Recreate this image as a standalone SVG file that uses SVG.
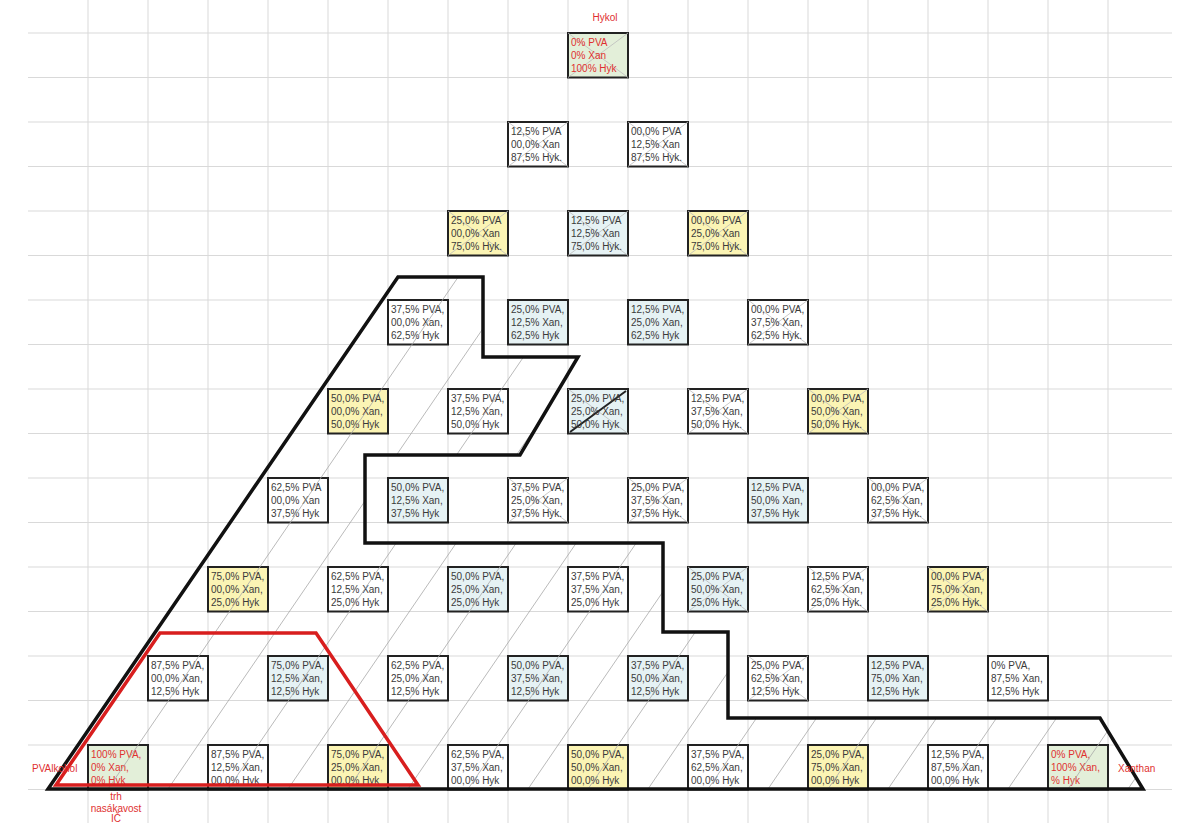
<svg xmlns="http://www.w3.org/2000/svg" width="1180" height="823" viewBox="0 0 1180 823">
<style>
.grid{stroke:#d9d9d9;stroke-width:1;fill:none}
.box{stroke:#222;stroke-width:2}
.w{fill:#ffffff}.y{fill:#fbf4b4}.b{fill:#e6f2f4}.g{fill:#e3efd9}
.x{stroke:#bdbdbd;stroke-width:0.8;fill:none}
.t{font-family:"Liberation Sans",Arial,sans-serif;font-size:10px;fill:#3a3a3a}
.r{fill:#e03030}
.lbl{font-family:"Liberation Sans",Arial,sans-serif;font-size:10px;fill:#e03030}
.hatch{stroke:#a8a8a8;stroke-width:0.8;fill:none}
.outline{stroke:#111;stroke-width:3.5;fill:none;stroke-linejoin:miter}
.red{stroke:#d81e1e;stroke-width:3.5;fill:none}
</style>
<defs>
<clipPath id="polyclip"><polygon points="48,789 398,277 483,277 483,357 578,357 520,455 365,455 365,543 663,543 663,632 728,632 728,718 1100,718 1143,789"/></clipPath>
</defs>
<rect width="1180" height="823" fill="#ffffff"/>
<g id="grid" class="grid">
<path d="M28 33H1172M28 77.5H1172M28 122H1172M28 166.5H1172M28 211H1172M28 255.5H1172M28 300H1172M28 344.5H1172M28 389H1172M28 433.5H1172M28 478H1172M28 522.5H1172M28 567H1172M28 611.5H1172M28 656H1172M28 700.5H1172M28 745H1172M28 789.5H1172"/>
<path d="M88 0V823M148 0V823M208 0V823M268 0V823M328 0V823M388 0V823M448 0V823M508 0V823M568 0V823M628 0V823M688 0V823M748 0V823M808 0V823M868 0V823M928 0V823M988 0V823M1048 0V823M1108 0V823"/>
</g>

<g id="n-hykol"><rect class="box g" x="568" y="33" width="60" height="44.5"/><path class="x" d="M568 33L628 77.5M628 33L568 77.5"/><text class="t r" x="571"><tspan x="571" y="46">0% PVA</tspan><tspan x="571" y="59">0% Xan</tspan><tspan x="571" y="72">100% Hyk</tspan></text></g>

<g id="n-2-1"><rect class="box w" x="508" y="122" width="60" height="44.5"/><path class="x" d="M508 122L568 166.5M568 122L508 166.5"/><text class="t"><tspan x="511" y="135">12,5% PVA</tspan><tspan x="511" y="148">00,0% Xan</tspan><tspan x="511" y="161">87,5% Hyk.</tspan></text></g>
<g id="n-2-2"><rect class="box w" x="628" y="122" width="60" height="44.5"/><path class="x" d="M628 122L688 166.5M688 122L628 166.5"/><text class="t"><tspan x="631" y="135">00,0% PVA</tspan><tspan x="631" y="148">12,5% Xan</tspan><tspan x="631" y="161">87,5% Hyk.</tspan></text></g>

<g id="n-3-1"><rect class="box y" x="448" y="211" width="60" height="44.5"/><path class="x" d="M448 211L508 255.5M508 211L448 255.5"/><text class="t"><tspan x="451" y="224">25,0% PVA</tspan><tspan x="451" y="237">00,0% Xan</tspan><tspan x="451" y="250">75,0% Hyk.</tspan></text></g>
<g id="n-3-2"><rect class="box b" x="568" y="211" width="60" height="44.5"/><path class="x" d="M568 211L628 255.5M628 211L568 255.5"/><text class="t"><tspan x="571" y="224">12,5% PVA</tspan><tspan x="571" y="237">12,5% Xan</tspan><tspan x="571" y="250">75,0% Hyk.</tspan></text></g>
<g id="n-3-3"><rect class="box y" x="688" y="211" width="60" height="44.5"/><path class="x" d="M688 211L748 255.5M748 211L688 255.5"/><text class="t"><tspan x="691" y="224">00,0% PVA</tspan><tspan x="691" y="237">25,0% Xan</tspan><tspan x="691" y="250">75,0% Hyk.</tspan></text></g>

<g id="n-4-1"><rect class="box w" x="388" y="300" width="60" height="44.5"/><text class="t"><tspan x="391" y="313">37,5% PVA,</tspan><tspan x="391" y="326">00,0% Xan,</tspan><tspan x="391" y="339">62,5% Hyk</tspan></text></g>
<g id="n-4-2"><rect class="box b" x="508" y="300" width="60" height="44.5"/><text class="t"><tspan x="511" y="313">25,0% PVA,</tspan><tspan x="511" y="326">12,5% Xan,</tspan><tspan x="511" y="339">62,5% Hyk</tspan></text></g>
<g id="n-4-3"><rect class="box b" x="628" y="300" width="60" height="44.5"/><text class="t"><tspan x="631" y="313">12,5% PVA,</tspan><tspan x="631" y="326">25,0% Xan,</tspan><tspan x="631" y="339">62,5% Hyk</tspan></text></g>
<g id="n-4-4"><rect class="box w" x="748" y="300" width="60" height="44.5"/><path class="x" d="M748 300L808 344.5M808 300L748 344.5"/><text class="t"><tspan x="751" y="313">00,0% PVA,</tspan><tspan x="751" y="326">37,5% Xan,</tspan><tspan x="751" y="339">62,5% Hyk.</tspan></text></g>

<g id="n-5-1"><rect class="box y" x="328" y="389" width="60" height="44.5"/><text class="t"><tspan x="331" y="402">50,0% PVA,</tspan><tspan x="331" y="415">00,0% Xan,</tspan><tspan x="331" y="428">50,0% Hyk</tspan></text></g>
<g id="n-5-2"><rect class="box w" x="448" y="389" width="60" height="44.5"/><text class="t"><tspan x="451" y="402">37,5% PVA,</tspan><tspan x="451" y="415">12,5% Xan,</tspan><tspan x="451" y="428">50,0% Hyk</tspan></text></g>
<g id="n-5-3"><rect class="box b" x="568" y="389" width="60" height="44.5"/><path class="x" d="M568 389L628 433.5"/><path d="M626 391L570 432" stroke="#222" stroke-width="2" fill="none"/><text class="t"><tspan x="571" y="402">25,0% PVA,</tspan><tspan x="571" y="415">25,0% Xan,</tspan><tspan x="571" y="428">50,0% Hyk</tspan></text></g>
<g id="n-5-4"><rect class="box w" x="688" y="389" width="60" height="44.5"/><path class="x" d="M688 389L748 433.5M748 389L688 433.5"/><text class="t"><tspan x="691" y="402">12,5% PVA,</tspan><tspan x="691" y="415">37,5% Xan,</tspan><tspan x="691" y="428">50,0% Hyk.</tspan></text></g>
<g id="n-5-5"><rect class="box y" x="808" y="389" width="60" height="44.5"/><path class="x" d="M808 389L868 433.5M868 389L808 433.5"/><text class="t"><tspan x="811" y="402">00,0% PVA,</tspan><tspan x="811" y="415">50,0% Xan,</tspan><tspan x="811" y="428">50,0% Hyk.</tspan></text></g>

<g id="n-6-1"><rect class="box w" x="268" y="478" width="60" height="44.5"/><text class="t"><tspan x="271" y="491">62,5% PVA</tspan><tspan x="271" y="504">00,0% Xan</tspan><tspan x="271" y="517">37,5% Hyk</tspan></text></g>
<g id="n-6-2"><rect class="box b" x="388" y="478" width="60" height="44.5"/><text class="t"><tspan x="391" y="491">50,0% PVA,</tspan><tspan x="391" y="504">12,5% Xan,</tspan><tspan x="391" y="517">37,5% Hyk</tspan></text></g>
<g id="n-6-3"><rect class="box w" x="508" y="478" width="60" height="44.5"/><path class="x" d="M508 478L568 522.5M568 478L508 522.5"/><text class="t"><tspan x="511" y="491">37,5% PVA,</tspan><tspan x="511" y="504">25,0% Xan,</tspan><tspan x="511" y="517">37,5% Hyk.</tspan></text></g>
<g id="n-6-4"><rect class="box w" x="628" y="478" width="60" height="44.5"/><path class="x" d="M628 478L688 522.5M688 478L628 522.5"/><text class="t"><tspan x="631" y="491">25,0% PVA,</tspan><tspan x="631" y="504">37,5% Xan,</tspan><tspan x="631" y="517">37,5% Hyk.</tspan></text></g>
<g id="n-6-5"><rect class="box b" x="748" y="478" width="60" height="44.5"/><text class="t"><tspan x="751" y="491">12,5% PVA,</tspan><tspan x="751" y="504">50,0% Xan,</tspan><tspan x="751" y="517">37,5% Hyk</tspan></text></g>
<g id="n-6-6"><rect class="box w" x="868" y="478" width="60" height="44.5"/><path class="x" d="M868 478L928 522.5M928 478L868 522.5"/><text class="t"><tspan x="871" y="491">00,0% PVA,</tspan><tspan x="871" y="504">62,5% Xan,</tspan><tspan x="871" y="517">37,5% Hyk.</tspan></text></g>

<g id="n-7-1"><rect class="box y" x="208" y="567" width="60" height="44.5"/><text class="t"><tspan x="211" y="580">75,0% PVA,</tspan><tspan x="211" y="593">00,0% Xan,</tspan><tspan x="211" y="606">25,0% Hyk</tspan></text></g>
<g id="n-7-2"><rect class="box w" x="328" y="567" width="60" height="44.5"/><text class="t"><tspan x="331" y="580">62,5% PVA,</tspan><tspan x="331" y="593">12,5% Xan,</tspan><tspan x="331" y="606">25,0% Hyk</tspan></text></g>
<g id="n-7-3"><rect class="box b" x="448" y="567" width="60" height="44.5"/><text class="t"><tspan x="451" y="580">50,0% PVA,</tspan><tspan x="451" y="593">25,0% Xan,</tspan><tspan x="451" y="606">25,0% Hyk</tspan></text></g>
<g id="n-7-4"><rect class="box w" x="568" y="567" width="60" height="44.5"/><text class="t"><tspan x="571" y="580">37,5% PVA,</tspan><tspan x="571" y="593">37,5% Xan,</tspan><tspan x="571" y="606">25,0% Hyk</tspan></text></g>
<g id="n-7-5"><rect class="box b" x="688" y="567" width="60" height="44.5"/><path class="x" d="M688 567L748 611.5M748 567L688 611.5"/><text class="t"><tspan x="691" y="580">25,0% PVA,</tspan><tspan x="691" y="593">50,0% Xan,</tspan><tspan x="691" y="606">25,0% Hyk.</tspan></text></g>
<g id="n-7-6"><rect class="box w" x="808" y="567" width="60" height="44.5"/><path class="x" d="M808 567L868 611.5M868 567L808 611.5"/><text class="t"><tspan x="811" y="580">12,5% PVA,</tspan><tspan x="811" y="593">62,5% Xan,</tspan><tspan x="811" y="606">25,0% Hyk.</tspan></text></g>
<g id="n-7-7"><rect class="box y" x="928" y="567" width="60" height="44.5"/><path class="x" d="M928 567L988 611.5M988 567L928 611.5"/><text class="t"><tspan x="931" y="580">00,0% PVA,</tspan><tspan x="931" y="593">75,0% Xan,</tspan><tspan x="931" y="606">25,0% Hyk.</tspan></text></g>

<g id="n-8-1"><rect class="box w" x="148" y="656" width="60" height="44.5"/><text class="t"><tspan x="151" y="669">87,5% PVA,</tspan><tspan x="151" y="682">00,0% Xan,</tspan><tspan x="151" y="695">12,5% Hyk</tspan></text></g>
<g id="n-8-2"><rect class="box b" x="268" y="656" width="60" height="44.5"/><text class="t"><tspan x="271" y="669">75,0% PVA,</tspan><tspan x="271" y="682">12,5% Xan,</tspan><tspan x="271" y="695">12,5% Hyk</tspan></text></g>
<g id="n-8-3"><rect class="box w" x="388" y="656" width="60" height="44.5"/><text class="t"><tspan x="391" y="669">62,5% PVA,</tspan><tspan x="391" y="682">25,0% Xan,</tspan><tspan x="391" y="695">12,5% Hyk</tspan></text></g>
<g id="n-8-4"><rect class="box b" x="508" y="656" width="60" height="44.5"/><text class="t"><tspan x="511" y="669">50,0% PVA,</tspan><tspan x="511" y="682">37,5% Xan,</tspan><tspan x="511" y="695">12,5% Hyk</tspan></text></g>
<g id="n-8-5"><rect class="box b" x="628" y="656" width="60" height="44.5"/><text class="t"><tspan x="631" y="669">37,5% PVA,</tspan><tspan x="631" y="682">50,0% Xan,</tspan><tspan x="631" y="695">12,5% Hyk</tspan></text></g>
<g id="n-8-6"><rect class="box w" x="748" y="656" width="60" height="44.5"/><path class="x" d="M748 656L808 700.5M808 656L748 700.5"/><text class="t"><tspan x="751" y="669">25,0% PVA,</tspan><tspan x="751" y="682">62,5% Xan,</tspan><tspan x="751" y="695">12,5% Hyk</tspan></text></g>
<g id="n-8-7"><rect class="box b" x="868" y="656" width="60" height="44.5"/><text class="t"><tspan x="871" y="669">12,5% PVA,</tspan><tspan x="871" y="682">75,0% Xan,</tspan><tspan x="871" y="695">12,5% Hyk</tspan></text></g>
<g id="n-8-8"><rect class="box w" x="988" y="656" width="60" height="44.5"/><text class="t"><tspan x="991" y="669">0% PVA,</tspan><tspan x="991" y="682">87,5% Xan,</tspan><tspan x="991" y="695">12,5% Hyk</tspan></text></g>

<g id="n-pva"><rect class="box g" x="88" y="745" width="60" height="44.5"/><text class="t r"><tspan x="91" y="758">100% PVA,</tspan><tspan x="91" y="771">0% Xan,</tspan><tspan x="91" y="784">0% Hyk</tspan></text></g>
<g id="n-9-2"><rect class="box w" x="208" y="745" width="60" height="44.5"/><text class="t"><tspan x="211" y="758">87,5% PVA,</tspan><tspan x="211" y="771">12,5% Xan,</tspan><tspan x="211" y="784">00,0% Hyk</tspan></text></g>
<g id="n-9-3"><rect class="box y" x="328" y="745" width="60" height="44.5"/><text class="t"><tspan x="331" y="758">75,0% PVA,</tspan><tspan x="331" y="771">25,0% Xan,</tspan><tspan x="331" y="784">00,0% Hyk</tspan></text></g>
<g id="n-9-4"><rect class="box w" x="448" y="745" width="60" height="44.5"/><text class="t"><tspan x="451" y="758">62,5% PVA,</tspan><tspan x="451" y="771">37,5% Xan,</tspan><tspan x="451" y="784">00,0% Hyk</tspan></text></g>
<g id="n-9-5"><rect class="box y" x="568" y="745" width="60" height="44.5"/><text class="t"><tspan x="571" y="758">50,0% PVA,</tspan><tspan x="571" y="771">50,0% Xan,</tspan><tspan x="571" y="784">00,0% Hyk</tspan></text></g>
<g id="n-9-6"><rect class="box w" x="688" y="745" width="60" height="44.5"/><text class="t"><tspan x="691" y="758">37,5% PVA,</tspan><tspan x="691" y="771">62,5% Xan,</tspan><tspan x="691" y="784">00,0% Hyk</tspan></text></g>
<g id="n-9-7"><rect class="box y" x="808" y="745" width="60" height="44.5"/><text class="t"><tspan x="811" y="758">25,0% PVA,</tspan><tspan x="811" y="771">75,0% Xan,</tspan><tspan x="811" y="784">00,0% Hyk</tspan></text></g>
<g id="n-9-8"><rect class="box w" x="928" y="745" width="60" height="44.5"/><text class="t"><tspan x="931" y="758">12,5% PVA,</tspan><tspan x="931" y="771">87,5% Xan,</tspan><tspan x="931" y="784">00,0% Hyk</tspan></text></g>
<g id="n-xan"><rect class="box g" x="1048" y="745" width="60" height="44.5"/><text class="t r"><tspan x="1051" y="758">0% PVA,</tspan><tspan x="1051" y="771">100% Xan,</tspan><tspan x="1051" y="784">% Hyk</tspan></text></g>

<g id="hatching" class="hatch" clip-path="url(#polyclip)">
<path d="M48 789l355 -519M108 789l355 -519M168 789l355 -519M228 789l355 -519M288 789l355 -519M348 789l355 -519M408 789l355 -519M468 789l355 -519M528 789l355 -519M588 789l355 -519M648 789l355 -519M708 789l355 -519M768 789l355 -519M828 789l355 -519M888 789l355 -519M948 789l355 -519M1008 789l355 -519M1068 789l355 -519M1128 789l355 -519"/>
</g>

<g id="connectors">
<polygon class="outline" points="48,789 398,277 483,277 483,357 578,357 520,455 365,455 365,543 663,543 663,632 728,632 728,718 1100,718 1143,789"/>
<polygon class="red" points="56,785 160,633 316,633 418,785"/>
</g>

<g id="labels">
<text class="lbl" x="605" y="21" text-anchor="middle">Hykol</text>
<text class="lbl" x="32" y="772">PVAlkohol</text>
<text class="lbl" x="1118" y="772">Xanthan</text>
<text class="lbl" x="116" y="800" text-anchor="middle">trh</text>
<text class="lbl" x="116" y="812" text-anchor="middle">nasákavost</text>
<text class="lbl" x="116" y="822" text-anchor="middle">IČ</text>
</g>
</svg>
